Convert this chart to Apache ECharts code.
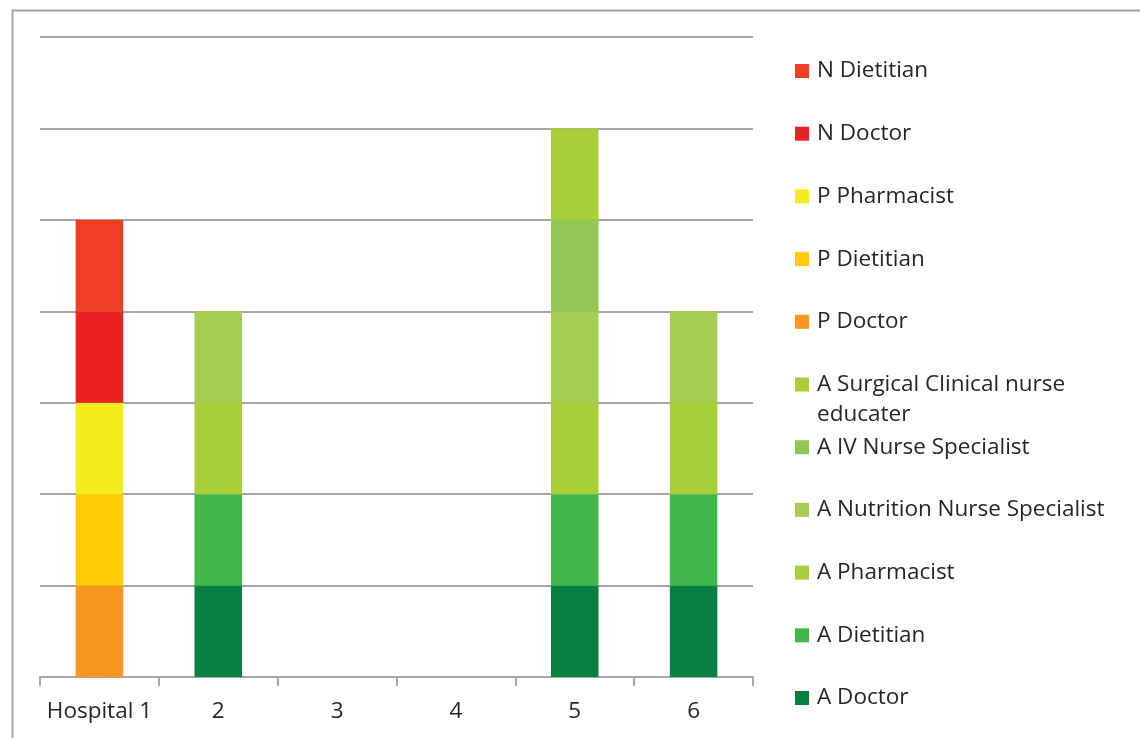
<!DOCTYPE html>
<html>
<head>
<meta charset="utf-8">
<script src="https://cdn.jsdelivr.net/npm/echarts@6/dist/echarts.min.js"></script>
<style>
  html, body { margin: 0; padding: 0; background: #fff; }
  #chart { width: 1140px; height: 738px; }
</style>
</head>
<body>
<div id="chart"></div>
<script>
// categories along the x axis
const hospitals = ['Hospital 1', '2', '3', '4', '5', '6']

// stacked series, bottom to top
const seriesNames = [
  'A Doctor',
  'A Dietitian',
  'A Pharmacist',
  'A Nutrition Nurse Specialist',
  'A IV Nurse Specialist',
  'A Surgical Clinical nurse educater',
  'P Doctor',
  'P Dietitian',
  'P Pharmacist',
  'N Doctor',
  'N Dietitian'
]

const aDoctor      = [0, 1, 0, 0, 1, 1]
const aDietitian   = [0, 1, 0, 0, 1, 1]
const aPharmacist  = [0, 1, 0, 0, 1, 1]
const aNutrition   = [0, 1, 0, 0, 1, 1]
const aIvNurse     = [0, 0, 0, 0, 1, 0]
const aSurgical    = [0, 0, 0, 0, 1, 0]
const pDoctor      = [1, 0, 0, 0, 0, 0]
const pDietitian   = [1, 0, 0, 0, 0, 0]
const pPharmacist  = [1, 0, 0, 0, 0, 0]
const nDoctor      = [1, 0, 0, 0, 0, 0]
const nDietitian   = [1, 0, 0, 0, 0, 0]

const seriesValues = [
  aDoctor, aDietitian, aPharmacist, aNutrition, aIvNurse, aSurgical,
  pDoctor, pDietitian, pPharmacist, nDoctor, nDietitian
]

const seriesColors = [
  '#098041', '#41B649', '#A9CF38', '#A6CE55', '#92C756', '#A8CE38',
  '#F7971E', '#FFCB05', '#F4EB1A', '#ED2024', '#EF3E23'
]

const fontFamily = 'Open Sans'
const textColor = '#262626'
const gridColor = '#A6A6A6'

const wrapped = 'A Surgical Clinical nurse educater'

const myChart = echarts.init(document.getElementById('chart'))

// one legend per series so the slots stay evenly spaced (top item = last series)
const legendTop = 56
const legendStep = 62.7
const legends = seriesNames.map((name, i) => {
  const slot = seriesNames.length - 1 - i
  const isWrapped = name === wrapped
  return {
    data: [name],
    left: 795,
    top: legendTop + slot * legendStep,
    padding: 0,
    orient: 'vertical',
    // the wrapped item keeps its square beside the first line
    icon: isWrapped ? 'path://M0,0L14,0L14,14L0,14Z M0,44L0.01,44' : 'rect',
    itemWidth: 14,
    itemHeight: isWrapped ? 44 : 14,
    itemGap: 6,
    selectedMode: false,
    formatter: (n) => n === wrapped ? 'A Surgical Clinical nurse\neducater' : n,
    textStyle: {
      fontFamily: fontFamily,
      fontSize: 22.5,
      color: textColor,
      lineHeight: 30,
      padding: [0, 0, 0, 3]
    }
  }
})

const option = {
  animation: false,
  backgroundColor: '#fff',
  graphic: [{
    type: 'rect',
    left: 10,
    top: 8,
    shape: { width: 1200, height: 800 },
    style: { fill: 'none', stroke: gridColor, lineWidth: 2 },
    silent: true
  }],
  grid: {
    left: 40,
    right: 387,
    top: 37,
    bottom: 61
  },
  legend: legends,
  xAxis: {
    type: 'category',
    data: hospitals,
    axisLine: { lineStyle: { color: gridColor, width: 2 } },
    axisTick: { show: true, interval: 0, length: 9, lineStyle: { color: gridColor, width: 2 } },
    axisLabel: {
      interval: 0,
      fontFamily: fontFamily,
      fontSize: 22.5,
      color: textColor,
      margin: 23
    }
  },
  yAxis: {
    type: 'value',
    min: 0,
    max: 7,
    interval: 1,
    axisLabel: { show: false },
    axisLine: { show: false },
    axisTick: { show: false },
    splitLine: { lineStyle: { color: gridColor, width: 2 } }
  },
  series: seriesNames.map((name, i) => ({
    name: name,
    type: 'bar',
    stack: 'total',
    barWidth: '40%',
    data: seriesValues[i],
    itemStyle: { color: seriesColors[i] }
  }))
}

myChart.setOption(option)
</script>
</body>
</html>
